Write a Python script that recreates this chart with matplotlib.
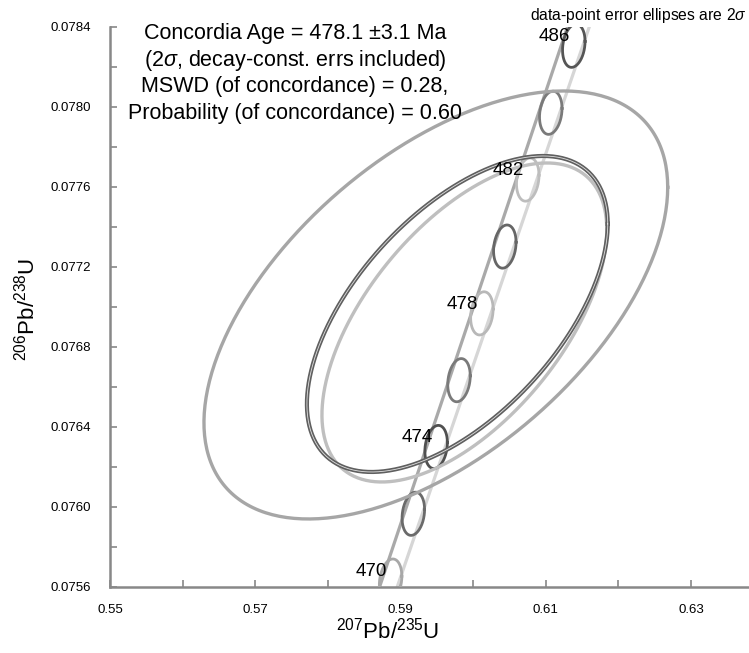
import matplotlib
matplotlib.use("Agg")
import matplotlib.pyplot as plt
import numpy as np

plt.rcParams['font.family'] = ['Liberation Sans', 'DejaVu Sans']
plt.rcParams['mathtext.fontset'] = 'custom'
plt.rcParams['mathtext.rm'] = 'Liberation Sans'
plt.rcParams['mathtext.it'] = 'Liberation Sans:italic'

# concordia age markers (Ma) and their ratios
ages = [470, 472, 474, 476, 478, 480, 482, 484, 486]
conc_x = [0.58864, 0.59177, 0.59491, 0.59806, 0.60121, 0.60437, 0.60753, 0.61070, 0.61387]
conc_y = [0.075632, 0.075966, 0.076300, 0.076634, 0.076968, 0.077302, 0.077637, 0.077971, 0.078306]
label_ages = [470, 474, 478, 482, 486]
marker_colors = ['#a8a8a8', '#6a6a6a', '#505050', '#7a7a7a', '#b8b8b8',
                 '#666666', '#bdbdbd', '#7a7a7a', '#555555']

# decay-constant error band edges
band_y = [0.0756, 0.0784]
band_left_x = [0.58712, 0.61300]
band_right_x = [0.58955, 0.61600]

# big ellipses: centre x, centre y, half-width x, half-height y, correlation
big_cx = [0.59487, 0.59880, 0.59783]
big_cy = [0.077010, 0.0769225, 0.076965]
big_ax = [0.031934, 0.019614, 0.020716]
big_ay = [0.001070, 0.0007975, 0.000790]
big_rho = [0.55, 0.58, 0.57]

# marker ellipse size
mk_ax = 0.00155
mk_ay = 0.000108
mk_rho = 0.2

xticks = [0.55, 0.57, 0.59, 0.61, 0.63]
yticks = [0.0756, 0.0760, 0.0764, 0.0768, 0.0772, 0.0776, 0.0780, 0.0784]

info_lines = ["Concordia Age = 478.1 \u00b13.1 Ma",
              "(2$\\sigma$, decay-const. errs included)",
              "MSWD (of concordance) = 0.28,",
              "Probability (of concordance) = 0.60"]


def ellipse_xy(cx, cy, ax_, ay_, rho, n=300):
	t = np.linspace(0, 2 * np.pi, n)
	x = cx + ax_ * np.cos(t)
	y = cy + ay_ * (rho * np.cos(t) + np.sqrt(1 - rho ** 2) * np.sin(t))
	return x, y


fig = plt.figure(figsize=(7.49, 6.53), dpi=100)
ax = fig.add_axes([0.1469, 0.1011, 0.8531, 0.8576])

# concordia band
ax.plot(band_left_x, band_y, color='#a9a9a9', lw=2.3, zorder=2)
ax.plot(band_right_x, band_y, color='#d6d6d6', lw=2.3, zorder=2)

# age markers
for i in range(len(ages)):
	x, y = ellipse_xy(conc_x[i], conc_y[i], mk_ax, mk_ay, mk_rho)
	ax.plot(x, y, color=marker_colors[i], lw=2.0, zorder=3)
	if ages[i] in label_ages:
		ax.annotate(str(ages[i]), (conc_x[i], conc_y[i]), xytext=(-2.5, 6.5),
					textcoords='offset points', ha='right', va='center',
					fontsize=13.5, zorder=6)

# big ellipses
x, y = ellipse_xy(big_cx[0], big_cy[0], big_ax[0], big_ay[0], big_rho[0])
ax.plot(x, y, color='#a6a6a6', lw=2.4, zorder=4)
x, y = ellipse_xy(big_cx[1], big_cy[1], big_ax[1], big_ay[1], big_rho[1])
ax.plot(x, y, color='#bfbfbf', lw=2.4, zorder=4)
x, y = ellipse_xy(big_cx[2], big_cy[2], big_ax[2], big_ay[2], big_rho[2])
ax.plot(x, y, color='#5f5f5f', lw=3.0, zorder=5)
ax.plot(x, y, color='#e0e0e0', lw=0.6, zorder=5)

ax.set_xlim(0.55, 0.638)
ax.set_ylim(0.0756, 0.0784)

for s in ['top', 'right']:
	ax.spines[s].set_visible(False)
for s in ['left', 'bottom']:
	ax.spines[s].set_color('#888888')
	ax.spines[s].set_linewidth(1.8)

ax.set_xticks(xticks)
ax.set_xticklabels(['0.55', '0.57', '0.59', '0.61', '0.63'])
ax.set_xticks([0.56, 0.58, 0.60, 0.62], minor=True)
ax.set_yticks(yticks)
ax.set_yticklabels(['%.4f' % v for v in yticks])
ax.set_yticks([0.0758, 0.0762, 0.0766, 0.0770, 0.0774, 0.0778, 0.0782], minor=True)
ax.tick_params(axis='both', which='both', direction='in', length=5, width=1.2,
			   color='#888888', labelsize=9.5)
ax.tick_params(axis='x', which='major', pad=12)
ax.tick_params(axis='y', which='major', pad=14)

ax.set_xlabel(r'$^{207}$Pb/$^{235}$U', fontsize=16)
ax.xaxis.set_label_coords(0.435, -0.055)
ax.set_ylabel(r'$^{206}$Pb/$^{238}$U', fontsize=16)
ax.yaxis.set_label_coords(-0.11, 0.495)

ys = [0.9875, 0.941, 0.893, 0.846]
for line, yy in zip(info_lines, ys):
	ax.text(0.2895, yy, line, transform=ax.transAxes, ha='center', va='center',
			fontsize=15.5, zorder=7)

fig.text(0.997, 0.977, "data-point error ellipses are 2$\\sigma$", ha='right',
		 va='center', fontsize=11.3)

fig.savefig('out.png', dpi=100)
